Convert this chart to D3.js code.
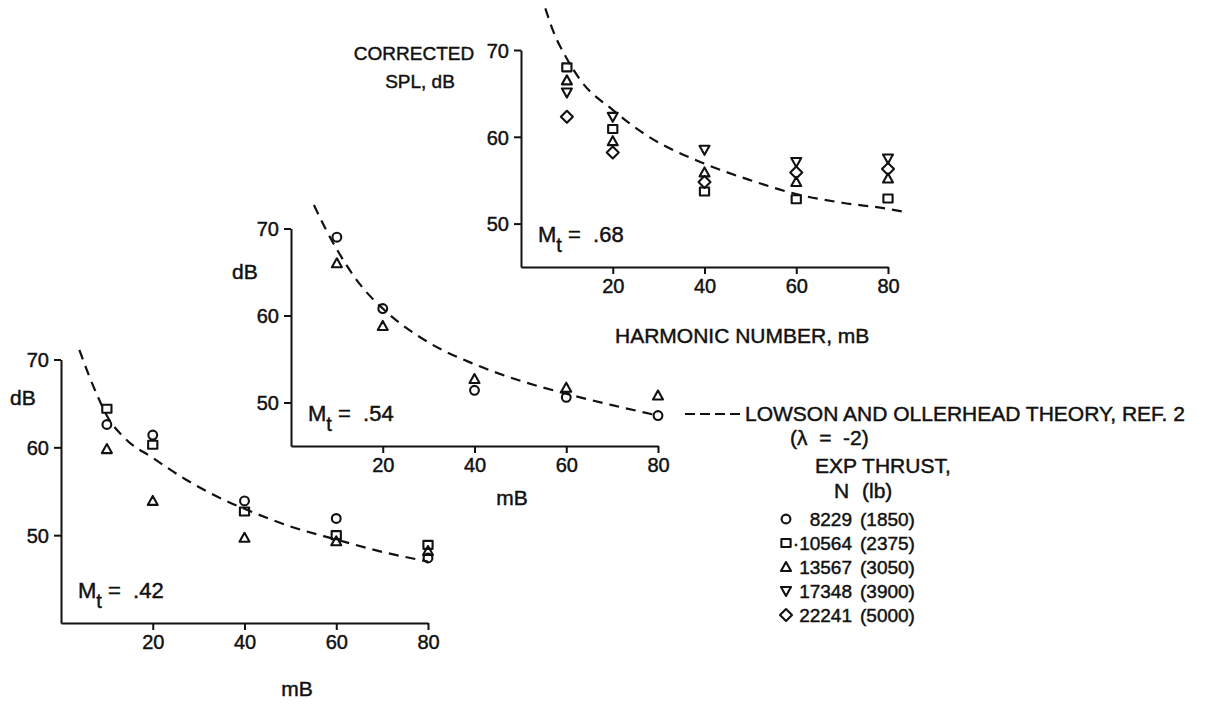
<!DOCTYPE html>
<html>
<head>
<meta charset="utf-8">
<script src="https://cdn.jsdelivr.net/npm/d3@7"></script>
<style>
  body { margin: 0; background: #fff; }
  svg text {
    font-family: "Liberation Sans", Arial, sans-serif;
    fill: #111;
    stroke: #111;
    stroke-width: 0.45px;
    white-space: pre;
  }
</style>
</head>
<body>
<div id="chart"></div>
<script>
var svgWidth = 1206;
var svgHeight = 704;

// harmonic numbers (mB) where data were taken
var harmonics = [10, 20, 40, 60, 80];
var xTicks = [20, 40, 60, 80];
var yTicks = [50, 60, 70];

// Mt = .42 panel
var m42Circle = [62.6, 61.4, 53.9, 51.9, 47.4];
var m42Square = [64.4, 60.3, 52.7, 50.0, 48.9];
var m42Triangle = [59.8, 53.9, 49.7, 49.3, 48.2];
var m42Theory = [[4, 71.1], [6, 68.3], [8, 65.8], [10, 63.6], [14, 61.0], [20, 58.8], [27, 56.4],
  [34, 54.4], [40, 53.0], [50, 51.0], [60, 49.5], [70, 48.1], [80, 47.0]];

// Mt = .54 panel
var m54Circle = [69.0, 60.8, 51.4, 50.6, 48.5];
var m54Triangle = [66.0, 58.8, 52.7, 51.7, 50.8];
var m54Theory = [[5, 72.7], [7.5, 70.0], [10, 67.6], [15, 63.6], [20, 60.8], [30, 56.9], [40, 54.4],
  [50, 52.5], [60, 51.0], [70, 49.7], [80, 48.5]];

// Mt = .68 panel
var m68Square = [68.0, 60.9, 53.7, 52.8, 52.9];
var m68Triangle = [66.5, 59.5, 55.9, 54.8, 55.2];
var m68TriangleDown = [65.1, 62.3, 58.5, 57.1, 57.5];
var m68Diamond = [62.3, 58.2, 54.8, 55.9, 56.3];
var m68Theory = [[5.3, 74.8], [7, 72.2], [10, 69.0], [13, 66.5], [20, 63.1], [27, 60.3], [40, 56.9],
  [50, 55.0], [60, 53.4], [70, 52.4], [80, 51.7], [83, 51.4]];

// legend
var legendSymbols = ["circle", "square", "triangle", "triangleDown", "diamond"];
var thrustN = ["8229", "\u00b710564", "13567", "17348", "22241"];
var thrustLb = ["(1850)", "(2375)", "(3050)", "(3900)", "(5000)"];

var svg = d3.select("#chart")
  .append("svg")
  .attr("width", svgWidth)
  .attr("height", svgHeight);

// draws one open symbol centred on (cx, cy)
function drawSymbol(g, type, cx, cy) {
  var p;
  if (type === "circle") {
    return g.append("circle").attr("cx", cx).attr("cy", cy).attr("r", 4.4)
      .attr("fill", "none").attr("stroke", "#111").attr("stroke-width", 2.1);
  }
  if (type === "square") {
    p = [[cx - 4.6, cy - 4], [cx + 4.6, cy - 4], [cx + 4.6, cy + 4], [cx - 4.6, cy + 4]];
  } else if (type === "triangle") {
    p = [[cx - 5, cy + 4], [cx + 5, cy + 4], [cx, cy - 5]];
  } else if (type === "triangleDown") {
    p = [[cx - 5, cy - 4], [cx + 5, cy - 4], [cx, cy + 5]];
  } else {
    p = [[cx, cy - 6], [cx + 6, cy], [cx, cy + 6], [cx - 6, cy]];
  }
  return g.append("path")
    .attr("d", "M" + p.join("L") + "Z")
    .attr("fill", "none").attr("stroke", "#111").attr("stroke-width", 2.1)
    .attr("stroke-linejoin", "round");
}

var panels = [
  { x0: 61, y70: 359.5, bottom: 623, yMin: 40, mt: ".42", theory: m42Theory,
    series: [["circle", m42Circle], ["square", m42Square], ["triangle", m42Triangle]] },
  { x0: 291, y70: 228.5, bottom: 446, yMin: 45, mt: ".54", theory: m54Theory,
    series: [["circle", m54Circle], ["triangle", m54Triangle]] },
  { x0: 521, y70: 50, bottom: 267, yMin: 45, mt: ".68", theory: m68Theory,
    series: [["square", m68Square], ["triangle", m68Triangle], ["triangleDown", m68TriangleDown], ["diamond", m68Diamond]] }
];

panels.forEach(function (pn) {
  var x = d3.scaleLinear().domain([0, 80]).range([pn.x0, pn.x0 + 367]);
  var y = d3.scaleLinear().domain([pn.yMin, 70]).range([pn.bottom, pn.y70]);
  var g = svg.append("g");

  var xAxis = g.append("g")
    .attr("transform", `translate(0, ${pn.bottom})`)
    .call(d3.axisBottom(x).tickValues(xTicks).tickSize(7).tickSizeOuter(0).tickPadding(5));
  var yAxis = g.append("g")
    .attr("transform", `translate(${pn.x0}, 0)`)
    .call(d3.axisLeft(y).tickValues(yTicks).tickSize(7).tickSizeOuter(0).tickPadding(5));

  [xAxis, yAxis].forEach(function (a) {
    a.selectAll("path, line").attr("stroke", "#111").attr("stroke-width", 2);
    a.selectAll("text").attr("font-size", 20).attr("fill", "#111")
      .style("font-family", null);
  });
  yAxis.selectAll("text").attr("dy", "0.36em");

  // theory curve
  var line = d3.line()
    .x(d => x(d[0]))
    .y(d => y(d[1]))
    .curve(d3.curveMonotoneX);
  g.append("path")
    .datum(pn.theory)
    .attr("d", line)
    .attr("fill", "none")
    .attr("stroke", "#111")
    .attr("stroke-width", 2.2)
    .attr("stroke-dasharray", "10,7");

  // measured points
  pn.series.forEach(function (s) {
    s[1].forEach(function (v, i) {
      drawSymbol(g, s[0], x(harmonics[i]), y(v));
    });
  });

  // Mt label
  var t = g.append("text")
    .attr("x", pn.x0 + 17)
    .attr("y", pn.bottom - 25)
    .attr("font-size", 22);
  t.append("tspan").text("M");
  t.append("tspan").attr("dy", 10).attr("font-size", 20).text("t");
  t.append("tspan").attr("dy", -10).text(" =  " + pn.mt);
});

// axis titles
function label(txt, x, y, anchor, size) {
  return svg.append("text")
    .attr("x", x).attr("y", y)
    .attr("text-anchor", anchor || "start")
    .attr("font-size", size || 21)
    .text(txt);
}
label("dB", 10, 405);
label("mB", 297, 696, "middle");
label("dB", 232, 279);
label("mB", 512, 505, "middle");
label("CORRECTED", 414, 60, "middle", 19);
label("SPL, dB", 420, 88, "middle", 19);
label("HARMONIC NUMBER, mB", 615, 343);

// legend
svg.append("line")
  .attr("x1", 685).attr("x2", 742)
  .attr("y1", 414).attr("y2", 414)
  .attr("stroke", "#111").attr("stroke-width", 2)
  .attr("stroke-dasharray", "10,5");
label("LOWSON AND OLLERHEAD THEORY, REF. 2", 745, 421);
label("(\u03bb  =  -2)", 790, 445);
label("EXP THRUST,", 815, 473);
label("N", 834, 498);
label("(lb)", 862, 498);

legendSymbols.forEach(function (s, i) {
  var yy = 526 + i * 24;
  drawSymbol(svg, s, 786, yy - 7);
  label(thrustN[i], 852, yy, "end", 19);
  label(thrustLb[i], 860, yy, "start", 19);
});
</script>
</body>
</html>
